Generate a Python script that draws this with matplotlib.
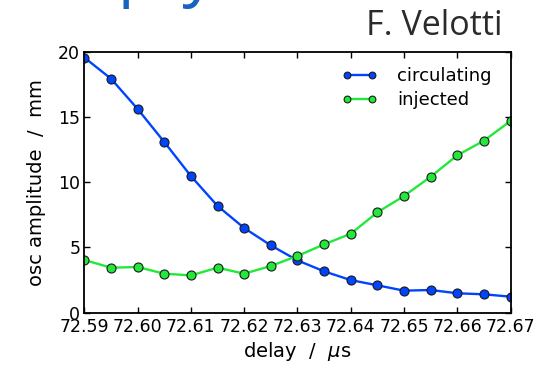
import matplotlib
matplotlib.use('Agg')
import matplotlib.pyplot as plt
import numpy as np

# delay scan (us) and oscillation amplitudes (mm)
delay = [72.590, 72.595, 72.600, 72.605, 72.610, 72.615, 72.620, 72.625, 72.630,
         72.635, 72.640, 72.645, 72.650, 72.655, 72.660, 72.665, 72.670]
circulating = [19.55, 17.93, 15.61, 13.08, 10.47, 8.18, 6.49, 5.16, 4.01,
               3.17, 2.50, 2.10, 1.69, 1.74, 1.49, 1.41, 1.23]
injected = [4.04, 3.45, 3.50, 2.99, 2.86, 3.45, 2.99, 3.58, 4.35,
            5.24, 6.05, 7.69, 8.94, 10.42, 12.06, 13.18, 14.69]
xticks = [72.59, 72.60, 72.61, 72.62, 72.63, 72.64, 72.65, 72.66, 72.67]
yticks = [0, 5, 10, 15, 20]

fig = plt.figure(figsize=(5.48, 3.66), dpi=100)
ax = fig.add_axes([0.154, 0.1456, 0.7776, 0.7131])

ax.plot(delay, circulating, '-o', color='#0044ff', lw=1.7, ms=6.5,
        mec='#1a1a1a', mew=0.8, label='circulating')
ax.plot(delay, injected, '-o', color='#22e83a', lw=1.7, ms=6.5,
        mec='#1a1a1a', mew=0.8, label='injected')

ax.set_xlim(72.59, 72.67)
ax.set_ylim(0, 20)
ax.set_xticks(xticks)
ax.set_xticklabels(['%.2f' % t for t in xticks])
ax.set_yticks(yticks)
ax.tick_params(direction='in', top=True, right=True, length=4, width=1,
               labelsize=12.5, pad=3)
ax.tick_params(axis='x', pad=4)
for s in ax.spines.values():
    s.set_linewidth(1.3)

ax.set_xlabel(r'delay  /  $\mu$s', fontsize=14, labelpad=3)
ax.set_ylabel('osc amplitude  /  mm', fontsize=14, labelpad=9)

ax.legend(loc='upper right', frameon=False, numpoints=2, markerscale=0.75,
          fontsize=13, handlelength=2.0, handletextpad=1.1,
          labelspacing=0.3, borderaxespad=0.4, bbox_to_anchor=(0.99, 0.995))

# slide remnants around the chart (title is cut by the top edge)
fig.text(0.918, 1 - 35 / 366, 'F. Velotti', fontsize=24.5, family='Open Sans',
         color='#2b2b2b', ha='right', va='baseline')
fig.text(0.035, 1 + 7 / 366, 'Empty', fontsize=48, family='Open Sans',
         color='#1565c0', ha='left', va='baseline')

fig.savefig('out.png', dpi=100)
